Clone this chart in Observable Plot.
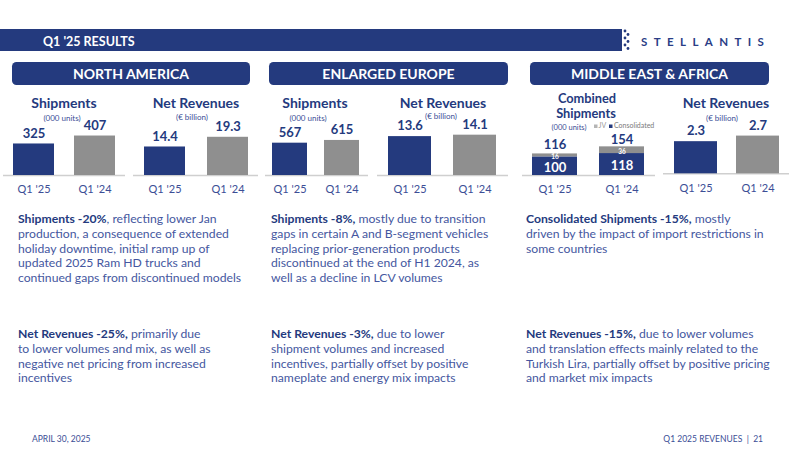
<!DOCTYPE html>
<html>
<head>
<meta charset="utf-8">
<script src="https://cdn.jsdelivr.net/npm/d3@7"></script>
<script src="https://cdn.jsdelivr.net/npm/@observablehq/plot@0.6"></script>
<style>
  body { margin: 0; background: #fff; }
  #slide { position: relative; width: 800px; height: 450px; overflow: hidden; background: #fff; font-family: Lato, "Open Sans", sans-serif; }
  #slide svg text { white-space: pre; }
</style>
</head>
<body>
<div id="slide"></div>
<script>
// ---- data ----
const periods = ["Q1 '25", "Q1 '24"];
const naShipments = [325, 407];          // 000 units
const naRevenues = [14.4, 19.3];         // € billion
const euShipments = [567, 615];          // 000 units
const euRevenues = [13.6, 14.1];         // € billion
const meaConsolidated = [100, 118];      // 000 units
const meaJV = [16, 36];                  // 000 units
const meaRevenues = [2.3, 2.7];          // € billion

const regions = ["NORTH AMERICA", "ENLARGED EUROPE", "MIDDLE EAST & AFRICA"];

// ---- palette ----
const navy = "#243a7e";
const gray = "#8f8f8f";
const axisGray = "#cfcfcf";
const tickBlue = "#3b4e96";
const bodyBlue = "#4557a0";

const slide = document.getElementById("slide");

// ---- static layer: header band, region pills, titles, commentary, footer ----
const W = 800, H = 450;
const deco = d3.select(slide).append("svg")
  .attr("width", W).attr("height", H)
  .style("position", "absolute").style("left", 0).style("top", 0)
  .style("font-family", "Lato, 'Open Sans', sans-serif");

deco.append("rect").attr("x", 0).attr("y", 29).attr("width", 622).attr("height", 22).attr("fill", navy);
[[625, 31], [628, 34.5], [625, 38], [628, 41.5], [625, 45], [628, 48.5]].forEach(([cx, cy]) =>
  deco.append("circle").attr("cx", cx).attr("cy", cy).attr("r", 1.4).attr("fill", navy));
deco.append("text").attr("x", 43).attr("y", 45.5).attr("fill", "#fff")
  .attr("font-size", 12.5).attr("font-weight", 700).text("Q1 '25 RESULTS");
deco.append("text").attr("x", 641).attr("y", 45.5).attr("fill", "#2a3d86")
  .attr("font-size", 11.5).attr("font-weight", 700).attr("letter-spacing", 6.4).text("STELLANTIS");

const pills = [[12, 250, 131], [269, 508, 388.5], [530, 769, 649.5]];
pills.forEach(([x0, x1, cx], i) => {
  deco.append("rect").attr("x", x0).attr("y", 62).attr("width", x1 - x0).attr("height", 23)
    .attr("rx", 4.5).attr("fill", navy);
  deco.append("text").attr("x", cx).attr("y", 78.5).attr("text-anchor", "middle").attr("fill", "#fff")
    .attr("font-size", 14).attr("font-weight", 700).text(regions[i]);
});

function label(x, y, str, size, weight, fill, anchor = "middle") {
  return deco.append("text").attr("x", x).attr("y", y).attr("text-anchor", anchor)
    .attr("font-size", size).attr("font-weight", weight).attr("fill", fill).text(str);
}
// chart titles
label(64, 108, "Shipments", 14, 700, navy);
label(62, 120.5, "(000 units)", 8, 400, tickBlue);
label(196, 108, "Net Revenues", 14, 700, navy);
label(192, 120, "(€ billion)", 8, 400, tickBlue);
label(315, 108, "Shipments", 14, 700, navy);
label(308, 120.5, "(000 units)", 8, 400, tickBlue);
label(443, 108, "Net Revenues", 14, 700, navy);
label(441, 119, "(€ billion)", 8, 400, tickBlue);
// two-line title of the stacked chart
const combined = deco.append("text").attr("text-anchor", "middle").attr("font-size", 12.8)
  .attr("font-weight", 700).attr("fill", navy);
combined.append("tspan").attr("x", 587).attr("y", 102.6).text("Combined");
combined.append("tspan").attr("x", 586).attr("y", 118.2).text("Shipments");
label(569, 129.5, "(000 units)", 7.5, 400, tickBlue);
label(726, 107.5, "Net Revenues", 14, 700, navy);
label(722, 121, "(€ billion)", 8, 400, tickBlue);

// legend of the stacked chart
deco.append("rect").attr("x", 594).attr("y", 124.5).attr("width", 3.5).attr("height", 3.5).attr("fill", "#b5b5b5");
label(598.5, 128.3, "JV", 7, 400, "#9a9a9a", "start");
deco.append("rect").attr("x", 609).attr("y", 124.5).attr("width", 3.5).attr("height", 3.5).attr("fill", navy);
label(614, 128.3, "Consolidated", 7, 400, "#7a7a7a", "start");

// commentary blocks: bold lead, then regular text
const blocks = [
  { x: 18, y: 223.3, bold: "Shipments -20%", lines: [", reflecting lower Jan", "production, a consequence of extended", "holiday downtime, initial ramp up of", "updated 2025 Ram HD trucks and", "continued gaps from discontinued models"] },
  { x: 18, y: 338.3, bold: "Net Revenues -25%,", lines: [" primarily due", "to lower volumes and mix, as well as", "negative net pricing from increased", "incentives"] },
  { x: 271, y: 223.3, bold: "Shipments -8%,", lines: [" mostly due to transition", "gaps in certain A and B-segment vehicles", "replacing prior-generation products", "discontinued at the end of H1 2024, as", "well as a decline in LCV volumes"] },
  { x: 271, y: 338.3, bold: "Net Revenues -3%,", lines: [" due to lower", "shipment volumes and increased", "incentives, partially offset by positive", "nameplate and energy mix impacts"] },
  { x: 526, y: 223.3, bold: "Consolidated Shipments -15%,", lines: [" mostly", "driven by the impact of import restrictions in", "some countries"] },
  { x: 526, y: 338.3, bold: "Net Revenues -15%,", lines: [" due to lower volumes", "and translation effects mainly related to the", "Turkish Lira, partially offset by positive pricing", "and market mix impacts"] }
];
const lineGap = 14.6, bodySize = 12.2;
blocks.forEach(b => {
  const t = deco.append("text").attr("x", b.x).attr("y", b.y).attr("font-size", bodySize).attr("fill", bodyBlue);
  t.append("tspan").attr("font-weight", 700).attr("fill", navy).text(b.bold);
  t.append("tspan").text(b.lines[0]);
  b.lines.slice(1).forEach((ln, i) =>
    deco.append("text").attr("x", b.x).attr("y", b.y + lineGap * (i + 1)).attr("font-size", bodySize)
      .attr("fill", bodyBlue).text(ln));
});

// footer
label(32, 441.5, "APRIL 30, 2025", 8.5, 400, tickBlue, "start");
label(763, 441.5, "Q1 2025 REVENUES  |  21", 8.5, 400, tickBlue, "end");

// ---- charts ----
const chartTop = 110, chartHeight = 92;

function place(svg, left) {
  svg.style.position = "absolute";
  svg.style.left = left + "px";
  svg.style.top = chartTop + "px";
  slide.appendChild(svg);
}

function bandX(spec) {
  const step = spec.centers[1] - spec.centers[0];
  const pad = 1 - spec.barWidth / step;
  return {
    domain: periods,
    range: [spec.centers[0] - step / 2 - spec.left, spec.centers[1] + step / 2 - spec.left],
    paddingInner: pad, paddingOuter: pad / 2, align: 0.5
  };
}

function frame(spec) {
  const base = spec.baseline - chartTop;
  return {
    width: spec.right - spec.left, height: chartHeight,
    marginTop: 0, marginRight: 0, marginLeft: 0, marginBottom: chartHeight - base,
    style: { fontFamily: "Lato, 'Open Sans', sans-serif", color: tickBlue, background: "transparent", overflow: "visible" },
    x: bandX(spec),
    y: { domain: [0, 1], range: [base, base - spec.pxPerUnit], axis: null }
  };
}

function simpleBars(values, decimals, spec) {
  const data = periods.map((period, i) => ({ period, value: values[i] }));
  const plot = Plot.plot({
    ...frame(spec),
    color: { domain: periods, range: [navy, gray] },
    marks: [
      Plot.ruleY([0], { stroke: axisGray, strokeWidth: 1.5 }),
      Plot.barY(data, { x: "period", y: "value", fill: "period" }),
      Plot.axisX({ tickSize: 0, tickPadding: 10, fontSize: 11, label: null }),
      Plot.text(data, { x: "period", y: "value", text: d => d.value.toFixed(decimals), dy: -10.5,
        fontSize: 13, fontWeight: 700, fill: navy })
    ]
  });
  place(plot, spec.left);
}

simpleBars(naShipments, 0, { left: 3, right: 125, centers: [33.5, 94.5], barWidth: 41, baseline: 175, pxPerUnit: 0.097 });
simpleBars(naRevenues, 1, { left: 133, right: 258, centers: [164.5, 227.5], barWidth: 41, baseline: 175, pxPerUnit: 1.98 });
simpleBars(euShipments, 0, { left: 265, right: 368, centers: [289.5, 341.5], barWidth: 35, baseline: 175, pxPerUnit: 0.057 });
simpleBars(euRevenues, 1, { left: 377, right: 508, centers: [409.5, 475], barWidth: 43.5, baseline: 175, pxPerUnit: 2.86 });
simpleBars(meaRevenues, 1, { left: 663, right: 789, centers: [695.5, 758], barWidth: 43, baseline: 173.3, pxPerUnit: 13.97 });

// Middle East & Africa combined shipments: consolidated stacked under JV
(function stackedShipments() {
  const spec = { left: 522, right: 655, centers: [554.5, 621.5], barWidth: 45, baseline: 175, pxPerUnit: 0.186 };
  const rows = periods.flatMap((period, i) => [
    { period, segment: "Consolidated", value: meaConsolidated[i], mid: meaConsolidated[i] / 2 },
    { period, segment: "JV", value: meaJV[i], mid: meaConsolidated[i] + meaJV[i] / 2 }
  ]);
  const totals = periods.map((period, i) => ({ period, value: meaConsolidated[i] + meaJV[i] }));
  const totalStyle = { x: "period", y: "value", text: "value", fontSize: 13, fontWeight: 700, fill: navy };
  const plot = Plot.plot({
    ...frame(spec),
    color: { domain: ["Consolidated", "JV"], range: [navy, gray] },
    marks: [
      Plot.ruleY([0], { stroke: axisGray, strokeWidth: 1.5 }),
      Plot.barY(rows, { x: "period", y: "value", fill: "segment" }),
      Plot.axisX({ tickSize: 0, tickPadding: 10, fontSize: 11, label: null }),
      Plot.text(rows.filter(d => d.segment === "Consolidated"), { x: "period", y: "mid", text: "value", dy: 1.5,
        fontSize: 13, fontWeight: 700, fill: "#fff" }),
      Plot.text(rows.filter(d => d.segment === "JV"), { x: "period", y: "mid", text: "value", dy: 1.5,
        fontSize: 6.5, fontWeight: 700, fill: "#fff" }),
      Plot.text(totals.slice(0, 1), { ...totalStyle, dy: -9.5 }),
      Plot.text(totals.slice(1), { ...totalStyle, dy: -7.5 })
    ]
  });
  place(plot, spec.left);
})();
</script>
</body>
</html>
